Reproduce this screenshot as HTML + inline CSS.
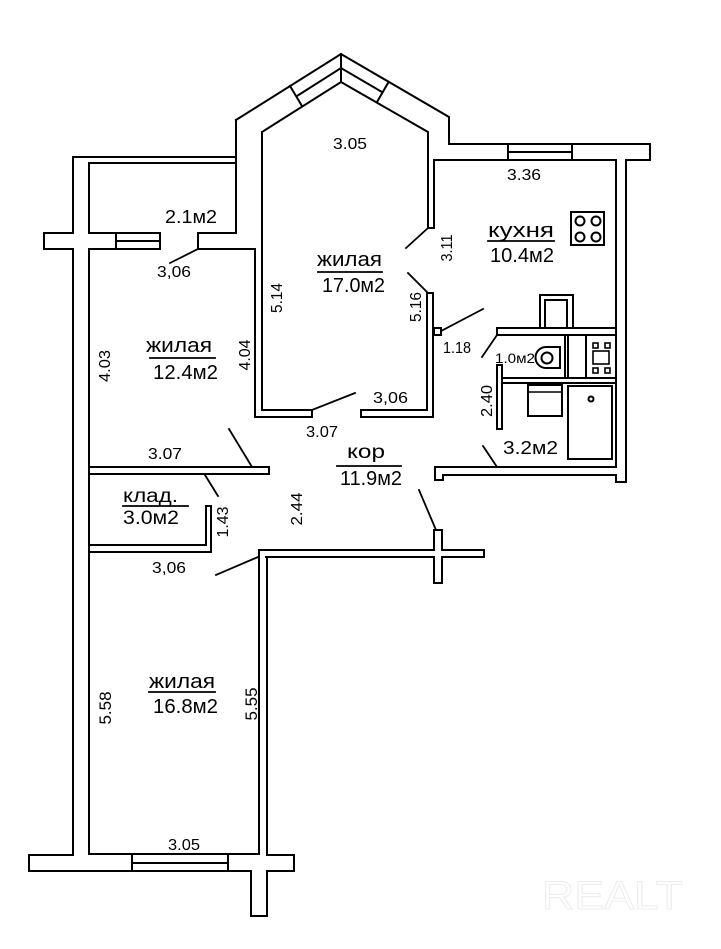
<!DOCTYPE html>
<html><head><meta charset="utf-8"><style>
html,body{margin:0;padding:0;background:#fff;}
svg{display:block;}
text{font-family:"Liberation Sans","DejaVu Sans",sans-serif;fill:#000;}
</style></head><body>
<svg width="721" height="949" viewBox="0 0 721 949" xmlns="http://www.w3.org/2000/svg">
<rect width="721" height="949" fill="#fff"/>
<g fill="none" stroke="#000" stroke-width="2" stroke-linejoin="miter" stroke-linecap="square">
<!-- left outer wall & balcony -->
<path d="M73,157 L236,157 M89,163 L236,163 M73,157 L73,233 L44,233 L44,249 L73,249 L73,855 L29,855 L29,871 L251,871 L251,916 L267,916 L267,871 L294,871 L294,855 L267,855 L267,557"/>
<path d="M89,163 L89,233 L160,233 L160,249 L89,249 L89,854 L259,854 L259,550"/>
<path d="M116,233 L116,249 M116,241 L160,241"/>
<path d="M132,854 L132,871 M228,854 L228,871 M132,863 L228,863"/>
<path d="M236,120 L236,233 L198,233 L198,249 L255,249 L255,417 L312,417 L312,410 L262,410 L262,132"/>
<!-- bay -->
<path d="M236,120 L341,54 L449,117 L449,144 L650,144 L650,160 L626,160 L626,482 L616,482 L616,475 L443,475 L443,480 L435,480 L435,467 L616,467 L616,160 L434,160 L434,228 L428,228 L428,132 L341,82 L262,132"/>
<path d="M341,54 L341,82 M297,96 L341,68 L382,92 M290,86 L302,106 M388,83 L377,102"/>
<path d="M508,144 L508,160 M572,144 L572,160 M508,152 L572,152"/>
<!-- living room right -->
<path d="M361,410 L427,410 L427,293 L433,293 L433,417 L361,417 Z"/>
<rect x="434" y="328" width="7" height="7"/>
<!-- storage -->
<path d="M89,467 L269,467 L269,474 L89,474 M89,545 L206,545 L206,506 L211,506 L211,552 L89,552"/>
<!-- corridor bottom wall -->
<path d="M259,550 L434,550 L434,530 L442,530 L442,550 L484,550 L484,557 L442,557 L442,583 L434,583 L434,557 L266,557"/>
<!-- bathroom -->
<path d="M497,328 L615,328 M497,335 L615,335 M497,328 L497,335"/>
<rect x="540" y="295" width="33" height="33"/>
<path d="M545,328 L545,300 L567,300 L567,328"/>
<path d="M502,378 L615,378 M502,383 L615,383 M497,365 L502,365 M497,365 L497,429 L502,429 L502,365"/>
<path d="M565,335 L565,378 M568,335 L568,378 M586,335 L586,378"/>
<rect x="593" y="343" width="5" height="5" stroke-width="1.6"/>
<rect x="605" y="343" width="5" height="5" stroke-width="1.6"/>
<rect x="593" y="368" width="5" height="5" stroke-width="1.6"/>
<rect x="605" y="368" width="5" height="5" stroke-width="1.6"/>
<rect x="593" y="351" width="16" height="13" stroke-width="1.6"/>
<path d="M546,347 L560,347 L560,368 L546,368 A10.5,10.5 0 0 1 546,347 Z"/>
<circle cx="547" cy="358" r="5.5"/>
<rect x="528" y="385" width="34" height="31"/>
<path d="M528,392 L562,392" stroke-width="1.5"/>
<rect x="568" y="386" width="44" height="73"/>
<circle cx="591" cy="399" r="2.5"/>
<!-- stove -->
<rect x="571" y="212" width="33" height="33"/>
<circle cx="580" cy="221" r="4.5"/>
<circle cx="596" cy="221" r="4.5"/>
<circle cx="580" cy="237" r="4.5"/>
<circle cx="596" cy="237" r="4.5"/>
<!-- door swings -->
<path d="M198,249 L170,263 M406,248 L428,228 M408,273 L428,293 M441,331 L483,309 M312,410 L355,393 M229,429 L252,467 M205,475 L218,496 M216,575 L258,557 M419,490 L436,530 M483,446 L497,467 M482,357 L497,335" stroke-width="1.8"/>
<!-- underlines -->
<path d="M488,241 L554,241 M318,272 L382,272 M150,358 L215,358 M123,506 L188,506 M337,466 L401,466 M149,692 L215,692" stroke-width="1.8"/>
</g>
<!-- horizontal labels -->
<text x="333" y="149" font-size="16" textLength="34" lengthAdjust="spacingAndGlyphs">3.05</text>
<text x="507" y="180" font-size="16" textLength="34" lengthAdjust="spacingAndGlyphs">3.36</text>
<text x="165" y="223" font-size="18" textLength="52" lengthAdjust="spacingAndGlyphs">2.1м2</text>
<text x="157" y="277" font-size="16" textLength="34" lengthAdjust="spacingAndGlyphs">3,06</text>
<text x="488" y="237" font-size="20" textLength="66" lengthAdjust="spacingAndGlyphs">кухня</text>
<text x="490" y="262" font-size="20" textLength="64" lengthAdjust="spacingAndGlyphs">10.4м2</text>
<text x="317" y="266" font-size="20" textLength="65" lengthAdjust="spacingAndGlyphs">жилая</text>
<text x="322" y="292" font-size="20" textLength="63" lengthAdjust="spacingAndGlyphs">17.0м2</text>
<text x="443" y="353" font-size="16" textLength="28" lengthAdjust="spacingAndGlyphs">1.18</text>
<text x="373" y="403" font-size="16" textLength="35" lengthAdjust="spacingAndGlyphs">3,06</text>
<text x="306" y="437" font-size="16" textLength="32" lengthAdjust="spacingAndGlyphs">3.07</text>
<text x="146" y="352" font-size="20" textLength="66" lengthAdjust="spacingAndGlyphs">жилая</text>
<text x="153" y="379" font-size="20" textLength="65" lengthAdjust="spacingAndGlyphs">12.4м2</text>
<text x="148" y="459" font-size="16" textLength="34" lengthAdjust="spacingAndGlyphs">3.07</text>
<text x="123" y="502" font-size="19" textLength="55" lengthAdjust="spacingAndGlyphs">клад.</text>
<text x="123" y="524" font-size="19" textLength="56" lengthAdjust="spacingAndGlyphs">3.0м2</text>
<text x="152" y="573" font-size="16" textLength="34" lengthAdjust="spacingAndGlyphs">3,06</text>
<text x="347" y="458" font-size="19" textLength="38" lengthAdjust="spacingAndGlyphs">кор</text>
<text x="340" y="485" font-size="20" textLength="62" lengthAdjust="spacingAndGlyphs">11.9м2</text>
<text x="503" y="454" font-size="18" textLength="55" lengthAdjust="spacingAndGlyphs">3.2м2</text>
<text x="495" y="363" font-size="14" textLength="40" lengthAdjust="spacingAndGlyphs">1.0м2</text>
<text x="149" y="688" font-size="20" textLength="66" lengthAdjust="spacingAndGlyphs">жилая</text>
<text x="153" y="713" font-size="20" textLength="65" lengthAdjust="spacingAndGlyphs">16.8м2</text>
<text x="168" y="850" font-size="16" textLength="32" lengthAdjust="spacingAndGlyphs">3.05</text>
<!-- rotated labels -->
<text transform="translate(452,248) rotate(-90)" text-anchor="middle" font-size="16" textLength="27" lengthAdjust="spacingAndGlyphs">3.11</text>
<text transform="translate(282,298) rotate(-90)" text-anchor="middle" font-size="16" textLength="30" lengthAdjust="spacingAndGlyphs">5.14</text>
<text transform="translate(421,307) rotate(-90)" text-anchor="middle" font-size="16" textLength="30" lengthAdjust="spacingAndGlyphs">5.16</text>
<text transform="translate(250,355) rotate(-90)" text-anchor="middle" font-size="16" textLength="31" lengthAdjust="spacingAndGlyphs">4.04</text>
<text transform="translate(110,366) rotate(-90)" text-anchor="middle" font-size="16" textLength="32" lengthAdjust="spacingAndGlyphs">4.03</text>
<text transform="translate(228,522) rotate(-90)" text-anchor="middle" font-size="16" textLength="31" lengthAdjust="spacingAndGlyphs">1.43</text>
<text transform="translate(302,509) rotate(-90)" text-anchor="middle" font-size="16" textLength="33" lengthAdjust="spacingAndGlyphs">2.44</text>
<text transform="translate(492,401) rotate(-90)" text-anchor="middle" font-size="16" textLength="32" lengthAdjust="spacingAndGlyphs">2.40</text>
<text transform="translate(111,708) rotate(-90)" text-anchor="middle" font-size="17" textLength="33" lengthAdjust="spacingAndGlyphs">5.58</text>
<text transform="translate(257,704) rotate(-90)" text-anchor="middle" font-size="17" textLength="33" lengthAdjust="spacingAndGlyphs">5.55</text>
<!-- watermark -->
<text x="542" y="909" font-size="40" textLength="141" lengthAdjust="spacingAndGlyphs" style="fill:#fff;stroke:#ececec;stroke-width:1">REALT</text>
</svg>
</body></html>
